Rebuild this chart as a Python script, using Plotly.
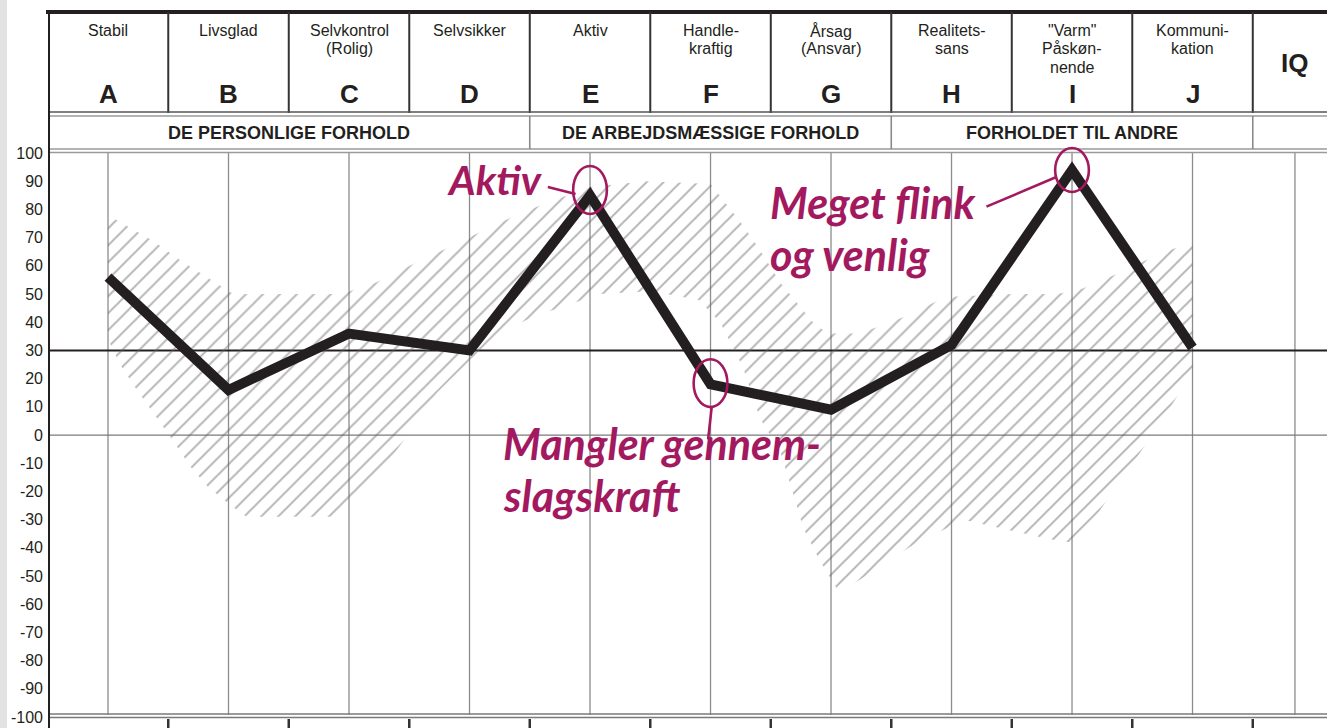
import plotly.graph_objects as go

# ---------------- data ----------------
letters = ["A", "B", "C", "D", "E", "F", "G", "H", "I", "J"]
traits = ["Stabil", "Livsglad", "Selvkontrol\n(Rolig)", "Selvsikker", "Aktiv",
          "Handle-\nkraftig", "Årsag\n(Ansvar)", "Realitets-\nsans",
          "\"Varm\"\nPåskøn-\nnende", "Kommuni-\nkation"]
scores = [56, 16, 36, 30, 85, 18, 9, 32, 94, 31]
groups = ["DE PERSONLIGE FORHOLD", "DE ARBEJDSMÆSSIGE FORHOLD", "FORHOLDET TIL ANDRE"]
group_first = [0, 4, 7]
group_last = [3, 6, 9]
y_ticks = list(range(100, -101, -10))
norm_level = 30
extra_col = "IQ"

# hatched norm band (x in column index units, y in score units)
band_upper_x = [0, 0.37, 0.6, 0.82, 1.04, 1.94, 2.22, 2.55, 2.9, 3.23, 3.56, 4.0, 4.47,
                5.0, 5.24, 5.39, 5.58, 5.85, 5.97, 6.24, 6.61, 6.95, 7.51, 7.88, 8.09,
                8.42, 8.76, 9.0]
band_upper_y = [78, 69, 62, 56, 50, 50, 54, 61, 68, 75, 81, 88, 90,
                89, 76, 67, 54, 40, 36, 36, 42, 49, 50, 50, 52,
                58, 65, 68]
band_lower_x = [9.0, 8.65, 8.21, 7.98, 7.82, 7.4, 7.1, 6.68, 6.07, 5.9, 5.77, 5.68, 5.58,
                5.41, 5.27, 5.08, 4.9, 4.5, 4.08, 3.53, 3.23, 2.73, 2.32, 2.07, 1.87,
                1.15, 0.99, 0.82, 0.68, 0.54, 0.39, 0.24, 0.1, 0]
band_lower_y = [22, -1, -28, -38, -37, -33, -30, -39, -56, -44, -33, -20, -6,
                6, 24, 40, 48, 51, 50, 42, 36, 15, -10, -21, -29,
                -29, -24, -18, -11, -2, 7, 16, 25, 34]

notes = {
    "E": ["Aktiv"],
    "F": ["Mangler gennem-", "slagskraft"],
    "I": ["Meget flink", "og venlig"],
}

# ---------------- layout constants ----------------
W, H = 1327, 728
ML = 48
INK = "#231f20"
GRID = "#8c8c8c"
MAG = "#a3195f"
HAND = dict(family="Lato, Noto Sans, sans-serif", size=43, color=MAG, style="italic", weight=700)
HAND_SMALL = dict(HAND, size=41)
NOTE_GAP = 18.5  # line step of the handwritten notes, in score units
SANS = "Liberation Sans, Arial, sans-serif"
BOLD = "Liberation Sans, Arial, sans-serif"

x_range = [-0.498, 10.116]
y_range = [-103.9, 154.3]
iq_pos = 9.85


def py(p):
    """pixel row -> paper y"""
    return 1 - p / H


def px(p):
    """pixel column -> paper x"""
    return (p - ML) / (W - ML)


n = len(letters)
idx = list(range(n))

fig = go.Figure()

# hatched band
fig.add_trace(go.Scatter(
    x=band_upper_x + band_lower_x, y=band_upper_y + band_lower_y,
    mode="lines", fill="toself", line=dict(width=0, color="rgba(0,0,0,0)"),
    fillcolor="rgba(0,0,0,0)",
    fillpattern=dict(shape="/", size=12, solidity=0.16, fgcolor="#646464",
                     bgcolor="rgba(255,255,255,0)"),
    hoverinfo="skip", showlegend=False))

# profile line
fig.add_trace(go.Scatter(
    x=idx, y=scores, mode="lines", line=dict(color=INK, width=10),
    showlegend=False, hoverinfo="skip"))

shapes = []
# left grey strip of the scan
shapes.append(dict(type="rect", xref="paper", yref="paper", x0=px(0), x1=px(7), y0=0, y1=1,
                   fillcolor="#e2e2e2", line=dict(width=0), layer="below"))
# vertical grid lines at column centres
for i in idx + [iq_pos]:
    shapes.append(dict(type="line", xref="x", yref="paper", x0=i, x1=i, y0=py(152), y1=py(715),
                       line=dict(color=GRID, width=1.3), layer="below"))
# zero line and norm line
shapes.append(dict(type="line", xref="paper", yref="y", x0=0, x1=1, y0=0, y1=0,
                   line=dict(color="#7a7a7a", width=1.3), layer="below"))
shapes.append(dict(type="line", xref="paper", yref="y", x0=0, x1=1, y0=norm_level, y1=norm_level,
                   line=dict(color=INK, width=2), layer="below"))
# header: top border
shapes.append(dict(type="line", xref="paper", yref="paper", x0=px(46), x1=1, y0=py(12), y1=py(12),
                   line=dict(color=INK, width=4)))
# header column separators (top and bottom rows)
for i in idx:
    shapes.append(dict(type="line", xref="x", yref="paper", x0=i + 0.5, x1=i + 0.5,
                       y0=py(12), y1=py(113), line=dict(color="#333333", width=2)))
    shapes.append(dict(type="line", xref="x", yref="paper", x0=i + 0.5, x1=i + 0.5,
                       y0=py(719), y1=0, line=dict(color="#333333", width=2.5)))
# double lines
for yy, c in [(112, "#555555"), (116, "#9a9a9a"), (149, "#9a9a9a"), (152.5, "#9a9a9a"),
              (714, "#7a7a7a"), (717.5, "#7a7a7a")]:
    shapes.append(dict(type="line", xref="paper", yref="paper", x0=0, x1=1, y0=py(yy), y1=py(yy),
                       line=dict(color=c, width=1.6)))
# group separators
for g in group_last:
    shapes.append(dict(type="line", xref="x", yref="paper", x0=g + 0.5, x1=g + 0.5,
                       y0=py(116), y1=py(149), line=dict(color="#8a8a8a", width=1.6)))
# left thick border
shapes.append(dict(type="line", xref="x", yref="paper", x0=-0.5, x1=-0.5, y0=py(10), y1=0,
                   line=dict(color=INK, width=4.5)))

# handwritten markings
e_i, f_i, i_i = letters.index("E"), letters.index("F"), letters.index("I")
for k, dy, ry in [(e_i, 1.9, 8.5), (f_i, 0.4, 8.5), (i_i, 0.0, 7.8)]:
    shapes.append(dict(type="circle", xref="x", yref="y", x0=k - 0.14, x1=k + 0.14,
                       y0=scores[k] + dy - ry, y1=scores[k] + dy + ry,
                       line=dict(color=MAG, width=2.6)))
shapes.append(dict(type="line", xref="x", yref="y", x0=e_i - 0.35, y0=scores[e_i] + 3,
                   x1=e_i - 0.12, y1=scores[e_i] + 0.5, line=dict(color=MAG, width=2.6)))
shapes.append(dict(type="line", xref="x", yref="y", x0=i_i - 0.71, y0=scores[i_i] - 13,
                   x1=i_i - 0.13, y1=scores[i_i] - 2.5, line=dict(color=MAG, width=2.6)))
shapes.append(dict(type="line", xref="x", yref="y", x0=f_i + 0.01, y0=scores[f_i] - 8,
                   x1=f_i - 0.02, y1=scores[f_i] - 19.5, line=dict(color=MAG, width=2.6)))

annotations = []
# trait names and letters
for i in idx:
    for k, line in enumerate(traits[i].split("\n")):
        annotations.append(dict(x=i, y=py(31 + 18 * k), xref="x", yref="paper", text=line,
                                showarrow=False, xanchor="center", yanchor="middle",
                                font=dict(family=SANS, size=16, color=INK)))
    annotations.append(dict(x=i, y=py(94), xref="x", yref="paper", text=letters[i],
                            showarrow=False, xanchor="center", yanchor="middle",
                            font=dict(family=BOLD, size=26, color=INK, weight=900)))
annotations.append(dict(x=iq_pos, y=py(63), xref="x", yref="paper", text=extra_col,
                        showarrow=False, xanchor="center", yanchor="middle",
                        font=dict(family=BOLD, size=26, color=INK, weight=900)))
for g, a, b in zip(groups, group_first, group_last):
    annotations.append(dict(x=(a + b) / 2, y=py(133), xref="x", yref="paper", text=g,
                            showarrow=False, xanchor="center", yanchor="middle",
                            font=dict(family=BOLD, size=18, color=INK, weight=900)))

# notes
annotations.append(dict(x=e_i - 0.37, y=scores[e_i] + 5.5, xref="x", yref="y",
                        text=notes["E"][0], showarrow=False, xanchor="right",
                        yanchor="middle", font=HAND_SMALL))
for k, t in enumerate(notes["I"]):
    annotations.append(dict(x=i_i - 2.52, y=scores[i_i] - 11.5 - NOTE_GAP * k, xref="x", yref="y",
                            text=t, showarrow=False, xanchor="left", yanchor="middle", font=HAND))
for k, t in enumerate(notes["F"]):
    annotations.append(dict(x=f_i - 1.74, y=scores[f_i] - 21 - NOTE_GAP * k, xref="x", yref="y",
                            text=t, showarrow=False, xanchor="left", yanchor="middle", font=HAND))

fig.update_layout(
    width=W, height=H,
    margin=dict(l=ML, r=0, t=0, b=0, pad=0),
    paper_bgcolor="white", plot_bgcolor="white",
    shapes=shapes, annotations=annotations,
    xaxis=dict(range=x_range, visible=False, fixedrange=True),
    yaxis=dict(range=y_range, tickmode="array", tickvals=y_ticks,
               ticktext=[str(v) for v in y_ticks], showgrid=False, zeroline=False,
               showline=False, ticks="", ticklabelstandoff=4,
               tickfont=dict(family=SANS, size=16, color=INK), fixedrange=True),
    showlegend=False,
)

fig.write_html("out.html",
               config={"displayModeBar": False},
               post_script="document.body.style.margin='0px';"
                           "document.documentElement.style.overflow='hidden';")
